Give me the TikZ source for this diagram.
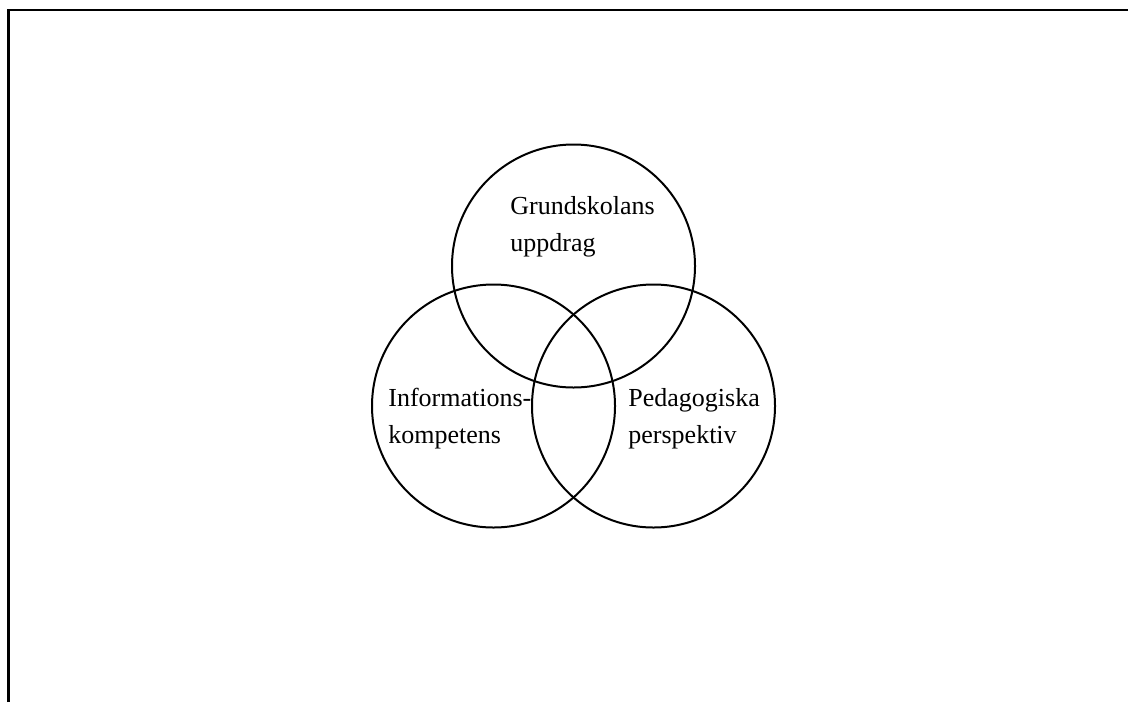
\documentclass[tikz,border=0pt]{standalone}
\usepackage{fontspec}
\setmainfont{Liberation Serif}
\usepackage{tikz}
\usetikzlibrary{positioning}
\definecolor{vnedge}{RGB}{0,0,0}
\tikzset{
  ring/.style={
    draw=vnedge, circle, line width=1pt, inner sep=0pt,
    minimum size=121.5pt
  },
  lbl/.style={
    align=left, inner sep=0pt, font=\fontsize{13}{18.5}\selectfont
  },
  frame/.style={draw=vnedge, line width=1.2pt}
}

\begin{document}
\begin{tikzpicture}[x=0.5pt,y=-0.5pt]
  \useasboundingbox (0,0) rectangle (1128,702);

  % Page frame (top and left edge only)
  \draw[frame] (8.5,702) -- (8.5,10) -- (1128,10);

  % The three overlapping circles
  \node[ring] (mission) at (573.5,266) {};
  \node[ring] (infocomp) at (493.5,406) {};
  \node[ring] (pedpersp) at (653.5,406) {};

  % Labels (base anchor sits on the last line)
  \node[lbl, anchor=base west] (missiontxt) at (510,251) {Grundskolans\\uppdrag};
  \node[lbl, anchor=base west] (infocomptxt) at (388,443) {Informations-\\kompetens};
  \node[lbl, anchor=base west] (pedpersptxt) at (628,443) {Pedagogiska\\perspektiv};
\end{tikzpicture}
\end{document}
